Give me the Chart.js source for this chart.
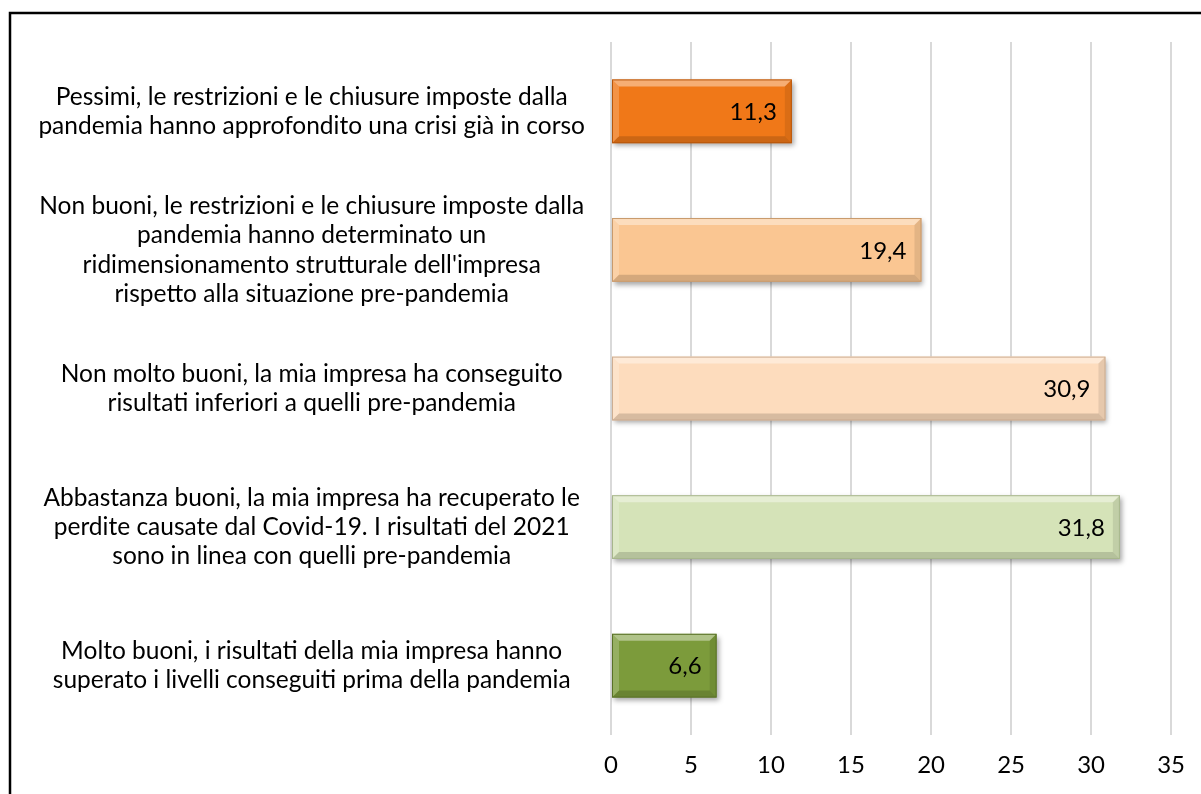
<!DOCTYPE html>
<html>
<head>
<meta charset="utf-8">
<script src="https://cdn.jsdelivr.net/npm/chart.js@4.4.1/dist/chart.umd.min.js"></script>
<style>
  html, body { margin: 0; padding: 0; background: #fff; }
  #wrap { width: 1201px; height: 794px; position: relative; }
</style>
</head>
<body>
<div id="wrap"><canvas id="chart" width="1201" height="794"></canvas></div>
<script>
const categories = [
  ['Pessimi, le restrizioni e le chiusure imposte dalla', 'pandemia hanno approfondito una crisi già in corso'],
  ['Non buoni, le restrizioni e le chiusure imposte dalla', 'pandemia hanno determinato un', "ridimensionamento strutturale dell'impresa", 'rispetto alla situazione pre-pandemia'],
  ['Non molto buoni, la mia impresa ha conseguito', 'risultati inferiori a quelli pre-pandemia'],
  ['Abbastanza buoni, la mia impresa ha recuperato le', 'perdite causate dal Covid-19. I risultati del 2021', 'sono in linea con quelli pre-pandemia'],
  ['Molto buoni, i risultati della mia impresa hanno', 'superato i livelli conseguiti prima della pandemia']
];
const values = [11.3, 19.4, 30.9, 31.8, 6.6];
const xTicks = [0, 5, 10, 15, 20, 25, 30, 35];

const fillColors = ['#F07818', '#FAC692', '#FDDCBD', '#D5E3B8', '#7C9B3B'];
const edgeColors = ['#B8570C', '#C99A6C', '#CDAE92', '#A7B68C', '#5A7228'];

const FONT = 'Lato, "Open Sans", sans-serif';

// frame around the picture (only left and top show)
const framePlugin = {
  id: 'frame',
  beforeDraw(chart) {
    const ctx = chart.ctx;
    ctx.save();
    ctx.strokeStyle = '#000';
    ctx.lineWidth = 2.5;
    ctx.strokeRect(10, 13, 1400, 1000);
    ctx.restore();
  }
};

// soft shadow under the bars
const shadowPlugin = {
  id: 'barShadow',
  beforeDatasetsDraw(chart) {
    const ctx = chart.ctx;
    ctx.save();
    ctx.shadowColor = 'rgba(0,0,0,0.35)';
    ctx.shadowBlur = 5;
    ctx.shadowOffsetX = 2;
    ctx.shadowOffsetY = 3;
  },
  afterDatasetsDraw(chart) {
    chart.ctx.restore();
  }
};

// bevel edges + value labels
const bevelPlugin = {
  id: 'bevel',
  afterDatasetsDraw(chart) {
    const ctx = chart.ctx;
    const meta = chart.getDatasetMeta(0);
    const b = 7;
    meta.data.forEach((bar, i) => {
      const p = bar.getProps(['x', 'y', 'base', 'height'], true);
      const l = Math.min(p.base, p.x), r = Math.max(p.base, p.x);
      const t = p.y - p.height / 2, btm = p.y + p.height / 2;
      ctx.save();
      ctx.fillStyle = 'rgba(255,255,255,0.4)';
      ctx.beginPath();
      ctx.moveTo(l, t); ctx.lineTo(r, t); ctx.lineTo(r - b, t + b); ctx.lineTo(l + b, t + b); ctx.closePath(); ctx.fill();
      ctx.fillStyle = 'rgba(255,255,255,0.2)';
      ctx.beginPath();
      ctx.moveTo(l, t); ctx.lineTo(l + b, t + b); ctx.lineTo(l + b, btm - b); ctx.lineTo(l, btm); ctx.closePath(); ctx.fill();
      ctx.fillStyle = 'rgba(0,0,0,0.15)';
      ctx.beginPath();
      ctx.moveTo(l, btm); ctx.lineTo(l + b, btm - b); ctx.lineTo(r - b, btm - b); ctx.lineTo(r, btm); ctx.closePath(); ctx.fill();
      ctx.fillStyle = 'rgba(0,0,0,0.09)';
      ctx.beginPath();
      ctx.moveTo(r, t); ctx.lineTo(r, btm); ctx.lineTo(r - b, btm - b); ctx.lineTo(r - b, t + b); ctx.closePath(); ctx.fill();
      ctx.strokeStyle = edgeColors[i];
      ctx.lineWidth = 1;
      ctx.strokeRect(l + 0.5, t + 0.5, r - l - 1, btm - t - 1);
      // value
      ctx.fillStyle = '#000';
      ctx.font = '24px ' + FONT;
      ctx.textAlign = 'right';
      ctx.textBaseline = 'middle';
      ctx.fillText(values[i].toFixed(1).replace('.', ','), r - 15, p.y + 1);
      ctx.restore();
    });
  }
};

new Chart(document.getElementById('chart'), {
  type: 'bar',
  data: {
    labels: categories,
    datasets: [{
      data: values,
      backgroundColor: fillColors,
      borderWidth: 0,
      barPercentage: 0.46,
      categoryPercentage: 1
    }]
  },
  options: {
    indexAxis: 'y',
    responsive: false,
    animation: false,
    layout: { padding: { top: 42, right: 29, left: 0, bottom: 0 } },
    plugins: {
      legend: { display: false },
      tooltip: { enabled: false }
    },
    scales: {
      x: {
        min: 0,
        max: 35,
        afterBuildTicks: (s) => { s.ticks = xTicks.map(v => ({ value: v })); },
        afterFit: (s) => { s.height = 59; },
        grid: { color: '#d9d9d9', lineWidth: 2, drawTicks: false },
        border: { display: false },
        ticks: { padding: 16, color: '#000', font: { family: FONT, size: 24 } }
      },
      y: {
        afterFit: (s) => { s.width = 611; s.paddingTop = 0; s.paddingBottom = 0; },
        grid: { display: false, drawTicks: false },
        border: { display: false },
        ticks: {
          padding: 26,
          crossAlign: 'center',
          color: '#000',
          font: { family: FONT, size: 24.5, lineHeight: 1.2 }
        }
      }
    }
  },
  plugins: [framePlugin, shadowPlugin, bevelPlugin]
});
</script>
</body>
</html>
